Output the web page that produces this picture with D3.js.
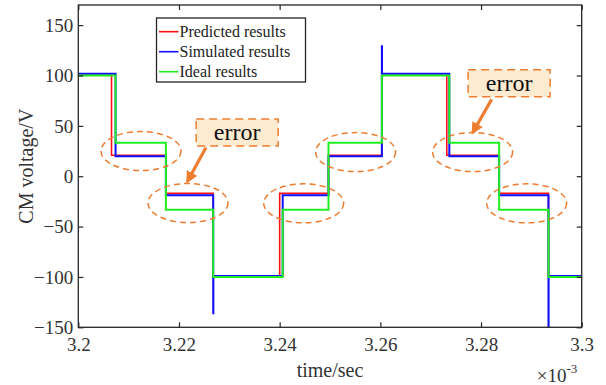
<!DOCTYPE html>
<html>
<head>
<meta charset="utf-8">
<script src="https://cdn.jsdelivr.net/npm/d3@7"></script>
<style>
  body { margin: 0; background: #fff; }
</style>
</head>
<body>
<div id="graph"></div>
<script>
// step times (x 1e-3 sec) and levels (V)
var idealT = [3.2, 3.2074, 3.2174, 3.2268, 3.2406, 3.2497, 3.2603, 3.2737, 3.2836, 3.2934, 3.3]
var idealV = [100, 33.3, -33.3, -100, -33.3, 33.3, 100, 33.3, -33.3, -100, -100]

var predT = [3.2, 3.2066, 3.2174, 3.2268, 3.2400, 3.2497, 3.2603, 3.2732, 3.2836, 3.2934, 3.3]
var predV = [101.8, 20.8, -17, -99.5, -17, 20.8, 101.8, 20.8, -17, -99.5, -99.5]

// simulated has short spikes at some switching instants
var simT = [3.2, 3.2074, 3.2174, 3.2268, 3.22683, 3.2406, 3.2497, 3.2603, 3.26033, 3.2737, 3.2836, 3.2934, 3.29343, 3.3]
var simV = [101.8, 19.8, -19, -136, -99, -19, 19.8, 129, 101.8, 19.8, -19, -175, -99, -99]

var seriesNames = ['Predicted results', 'Simulated results', 'Ideal results']
var seriesColors = ['#ff1010', '#1010ff', '#20ee20']

var xTicks = [3.2, 3.22, 3.24, 3.26, 3.28, 3.3]
var yTicks = [-150, -100, -50, 0, 50, 100, 150]

// annotations, in data coords
var ellipseT = [3.21245, 3.22179, 3.24477, 3.25509, 3.27833, 3.28906]
var ellipseV = [25, -26.6, -26.9, 24, 24, -26.9]
var errorT = [3.23156, 3.28558]
var errorV = [43.3, 92.2]
var arrowFrom = [[3.22536, 28.6], [3.28211, 76.3]]
var arrowTo = [[3.22165, -5.5], [3.27833, 43.1]]

var W = 606, H = 385
var margin = { top: 5, right: 24.3, bottom: 57.7, left: 78.3 },
    width = W - margin.left - margin.right,
    height = H - margin.top - margin.bottom;
var serif = '"Liberation Serif", "Times New Roman", serif'

var svg = d3.select("#graph")
    .append("svg")
    .attr("width", W)
    .attr("height", H)
var g = svg.append("g")
    .attr("transform", "translate(" + margin.left + "," + margin.top + ")");

var x = d3.scaleLinear().domain([3.2, 3.3]).range([0, width])
var y = d3.scaleLinear().domain([-150, 170]).range([height, 0])

g.append("clipPath").attr("id", "clip")
    .append("rect").attr("width", width).attr("height", height)

// lines: red, then blue, green on top
var line = d3.line()
    .x(function (d) { return x(d[0]) })
    .y(function (d) { return y(d[1]) })
    .curve(d3.curveStepAfter)

var allData = [d3.zip(predT, predV), d3.zip(simT, simV), d3.zip(idealT, idealV)]
var lines = g.append("g").attr("clip-path", "url(#clip)")
allData.forEach(function (d, i) {
    lines.append("path")
        .datum(d)
        .attr("d", line)
        .attr("fill", "none")
        .attr("stroke", seriesColors[i])
        .attr("stroke-width", i == 0 ? 1.6 : 2)
})

// axes, ticks inside, box all round
var axisColor = '#262626'
function styleAxis(sel) {
    sel.attr("font-family", null)
    sel.select(".domain").remove()
    sel.selectAll("line").attr("stroke", axisColor).attr("stroke-width", 1.2)
    sel.selectAll("text").style("font-size", "19px").attr("fill", "#333")
}
g.append("g").attr("transform", "translate(0," + height + ")")
    .call(d3.axisBottom(x).tickValues(xTicks).tickSize(-5).tickPadding(24).tickFormat(d3.format("")))
    .call(styleAxis)
    .selectAll("text").attr("dy", 0)
g.append("g")
    .call(d3.axisTop(x).tickValues(xTicks).tickSize(-5).tickFormat(""))
    .call(styleAxis)
g.append("g")
    .call(d3.axisLeft(y).tickValues(yTicks).tickSize(-5).tickPadding(5))
    .call(styleAxis)
    .selectAll("text").attr("dy", "0.33em")
g.append("g").attr("transform", "translate(" + width + ",0)")
    .call(d3.axisRight(y).tickValues(yTicks).tickSize(-5).tickFormat(""))
    .call(styleAxis)
g.append("rect")
    .attr("width", width).attr("height", height)
    .attr("fill", "none").attr("stroke", axisColor).attr("stroke-width", 1.3)

// axis labels
g.append("text")
    .attr("x", width / 2).attr("y", 372)
    .attr("text-anchor", "middle")
    .style("font-size", "20px")
    .attr("fill", "#333")
    .text("time/sec")
g.append("text")
    .attr("transform", "translate(" + (33 - margin.left) + "," + (height / 2) + ") rotate(-90)")
    .attr("text-anchor", "middle")
    .style("font-size", "20px")
    .attr("fill", "#333")
    .text("CM voltage/V")
var expo = g.append("text")
    .attr("x", width - 45).attr("y", 377)
    .style("font-size", "19px")
    .attr("fill", "#333")
expo.append("tspan").text("\u00d710")
expo.append("tspan").attr("dy", -9).style("font-size", "13px").text("-3")

// legend
var legend = g.append("g").attr("transform", "translate(" + (156.5 - margin.left) + "," + (18 - margin.top) + ")")
legend.append("rect")
    .attr("width", 149).attr("height", 64)
    .attr("fill", "#fff").attr("stroke", axisColor).attr("stroke-width", 1.3)
seriesNames.forEach(function (e, i) {
    var ly = 13.7 + i * 20
    legend.append("line")
        .attr("x1", 2.5).attr("x2", 22).attr("y1", ly).attr("y2", ly)
        .attr("stroke", seriesColors[i]).attr("stroke-width", 1.6)
    legend.append("text")
        .attr("x", 23).attr("y", ly).attr("dy", "0.33em")
        .style("font-size", "16px")
        .attr("fill", "#222")
        .text(e)
})

// orange annotations
var orange = '#ed7d31'
var ann = g.append("g")
ellipseT.forEach(function (t, i) {
    ann.append("ellipse")
        .attr("cx", x(t)).attr("cy", y(ellipseV[i]))
        .attr("rx", 40).attr("ry", 19.5)
        .attr("fill", "none").attr("stroke", orange)
        .attr("stroke-width", 1.5).attr("stroke-dasharray", "6,4")
})

svg.append("defs").append("marker")
    .attr("id", "head")
    .attr("markerUnits", "userSpaceOnUse")
    .attr("viewBox", "0 0 12 12")
    .attr("refX", 10).attr("refY", 6)
    .attr("markerWidth", 12).attr("markerHeight", 12)
    .attr("orient", "auto")
    .append("path").attr("d", "M0,0L12,6L0,12Z").attr("fill", orange)

arrowFrom.forEach(function (a, i) {
    ann.append("line")
        .attr("x1", x(a[0])).attr("y1", y(a[1]))
        .attr("x2", x(arrowTo[i][0])).attr("y2", y(arrowTo[i][1]))
        .attr("stroke", orange).attr("stroke-width", 3.2)
        .attr("marker-end", "url(#head)")
})

errorT.forEach(function (t, i) {
    var cx = x(t), cy = y(errorV[i])
    ann.append("rect")
        .attr("x", cx - 41).attr("y", cy - 13.5)
        .attr("width", 82).attr("height", 27)
        .attr("fill", "#fdebcf").attr("stroke", orange)
        .attr("stroke-width", 1.5).attr("stroke-dasharray", "8,5")
    ann.append("text")
        .attr("x", cx).attr("y", cy).attr("dy", "0.3em")
        .attr("text-anchor", "middle")
        .style("font-size", "24px")
        .attr("fill", "#111")
        .text("error")
})

// all text in a Times-like face
svg.selectAll("text").style("font-family", serif)
</script>
</body>
</html>
